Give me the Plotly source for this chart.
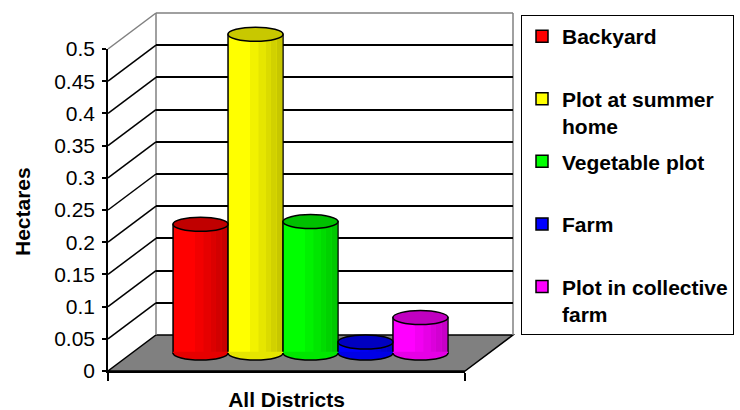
import plotly.graph_objects as go

# ---- data -------------------------------------------------------------
CATEGORY = "All Districts"
SERIES = ["Backyard", "Plot at summer home", "Vegetable plot", "Farm",
          "Plot in collective farm"]
LEGEND_LABELS = ["Backyard<br> ", "Plot at summer<br>home", "Vegetable plot<br> ",
                 "Farm<br> ", "Plot in collective<br>farm"]
HECTARES = [0.200, 0.495, 0.204, 0.017, 0.055]
BODY_COLORS = ["#FF0000", "#FFFF00", "#00FF00", "#0000FF", "#FF00FF"]
TOP_COLORS = ["#C00000", "#C8C800", "#00C000", "#0000C0", "#C000C0"]
Y_TICKS = [0, 0.05, 0.1, 0.15, 0.2, 0.25, 0.3, 0.35, 0.4, 0.45, 0.5]
Y_TICK_TEXT = ["0", "0.05", "0.1", "0.15", "0.2", "0.25", "0.3", "0.35",
               "0.4", "0.45", "0.5"]
Y_TITLE = "Hectares"

# ---- page geometry (pixels) ---------------------------------------------
W, H = 740, 410
FRONT_X0, FRONT_X1 = 108, 465        # front edge of the floor
FRONT_Y0, FRONT_Y1 = 371, 49         # pixel rows of 0 and 0.5 on the front plane
DEPTH_DX, DEPTH_DY = 48, 36          # shift from front plane to back wall
Y_MAX = Y_TICKS[-1]
PX_PER_UNIT = (FRONT_Y0 - FRONT_Y1) / Y_MAX
GROUP_WIDTH = 0.77                   # share of the category occupied by the cluster
CAP_HALF_PX = 7                      # half height of the cylinder ellipses
FONT = "Liberation Sans, Arial, sans-serif"


def px(x):
    return x / W


def py(y):
    return 1 - y / H


def front_row(v):
    return FRONT_Y0 - v * PX_PER_UNIT


def shade(hex_color, f):
    r, g, b = (int(hex_color[i:i + 2], 16) for i in (1, 3, 5))
    return "#%02X%02X%02X" % (round(r * f), round(g * f), round(b * f))


# mid-depth plane where the cylinders stand
MID_DX, MID_DY = DEPTH_DX / 2, DEPTH_DY / 2
mid_zero_row = FRONT_Y0 - MID_DY
y3_range = [-(H - mid_zero_row) / PX_PER_UNIT, mid_zero_row / PX_PER_UNIT]
cap_half = CAP_HALF_PX / PX_PER_UNIT
bar_w = GROUP_WIDTH / len(SERIES)
x_unit_px = FRONT_X1 - FRONT_X0
inset = 0.75 / x_unit_px

fig = go.Figure()
shapes = []

# empty traces so the front axes and the back wall grid get drawn
fig.add_trace(go.Scatter(x=[CATEGORY], y=[None], xaxis="x", yaxis="y",
                         mode="markers", showlegend=False, hoverinfo="skip"))
fig.add_trace(go.Scatter(x=[0], y=[None], xaxis="x2", yaxis="y2",
                         mode="markers", showlegend=False, hoverinfo="skip"))

# cylinders: body, vertical shading strips, base arc and top ellipse
STRIPS = [(0.40, 0.55, 0.95), (0.55, 0.68, 0.90), (0.68, 0.78, 0.86),
          (0.78, 0.88, 0.82), (0.88, 1.0, 0.78)]
K = 0.5523
for i, (label, v, col, top) in enumerate(zip(LEGEND_LABELS, HECTARES,
                                             BODY_COLORS, TOP_COLORS)):
    left = -GROUP_WIDTH / 2 + i * bar_w
    right = left + bar_w
    fig.add_trace(go.Bar(
        x=[CATEGORY], y=[v], xaxis="x3", yaxis="y3", name=label,
        legendgroup=SERIES[i], offset=left, width=bar_w,
        marker=dict(color=col, line=dict(color="black", width=1.5)),
        hoverinfo="skip"))
    for f0, f1, f in STRIPS:
        w0 = left + f0 * bar_w
        w1 = left + f1 * bar_w - (inset if f1 >= 1 else 0)
        fig.add_trace(go.Bar(
            x=[CATEGORY], y=[v], xaxis="x3", yaxis="y3", showlegend=False,
            legendgroup=SERIES[i], offset=w0, width=w1 - w0,
            marker=dict(color=shade(col, f), line=dict(width=0)),
            hoverinfo="skip"))
    cx, a = (left + right) / 2, bar_w / 2
    arc = (f"M {left} 0 C {left} {-K * cap_half} {cx - K * a} {-cap_half} {cx} {-cap_half} "
           f"C {cx + K * a} {-cap_half} {right} {-K * cap_half} {right} 0")
    eps = 1.2 / PX_PER_UNIT
    shapes.append(dict(type="path", xref="x3", yref="y3", layer="above",
                       path=arc + f" L {right} {eps} L {left} {eps} Z",
                       fillcolor=shade(col, 0.9), line=dict(width=0)))
    shapes.append(dict(type="path", xref="x3", yref="y3", layer="above",
                       path=arc, fillcolor="rgba(0,0,0,0)",
                       line=dict(color="black", width=1.5)))
    shapes.append(dict(type="circle", xref="x3", yref="y3", layer="above",
                       x0=left, x1=right, y0=v - cap_half, y1=v + cap_half,
                       fillcolor=top, line=dict(color="black", width=1.5)))

# ---- walls and floor ----------------------------------------------------
bx0, bx1 = FRONT_X0 + DEPTH_DX, FRONT_X1 + DEPTH_DX
by0, by1 = FRONT_Y0 - DEPTH_DY, FRONT_Y1 - DEPTH_DY
gray = "#808080"


def seg(x0, y0, x1, y1, color, width=1.5):
    return dict(type="line", xref="paper", yref="paper", layer="below",
                x0=px(x0), y0=py(y0), x1=px(x1), y1=py(y1),
                line=dict(color=color, width=width))


floor = (f"M {px(FRONT_X0)} {py(FRONT_Y0)} L {px(FRONT_X1)} {py(FRONT_Y0)} "
         f"L {px(bx1)} {py(by0)} L {px(bx0)} {py(by0)} Z")
shapes.insert(0, dict(type="path", xref="paper", yref="paper", layer="below",
                      path=floor, fillcolor=gray,
                      line=dict(color="black", width=1.5)))
shapes += [
    seg(FRONT_X0, FRONT_Y1, bx0, by1, gray),
    seg(bx0, by1, bx0, by0, gray),
    seg(bx0, by1, bx1, by1, gray),
    seg(bx1, by1, bx1, by0, gray),
]
for v in Y_TICKS[1:-1]:
    r = front_row(v)
    shapes.append(seg(FRONT_X0, r, bx0, r - DEPTH_DY, "black"))

axis_font = dict(family=FONT, size=21, color="black")
bold_font = dict(family=FONT, size=21, color="black", weight="bold")

fig.update_layout(
    width=W, height=H,
    margin=dict(l=0, r=0, t=0, b=0, autoexpand=False),
    paper_bgcolor="white", plot_bgcolor="rgba(0,0,0,0)",
    barmode="overlay",
    shapes=shapes,
    showlegend=True,
    legend=dict(x=px(521), y=py(15), xanchor="left", yanchor="top",
                bgcolor="white", bordercolor="black", borderwidth=1,
                font=bold_font, valign="top", tracegroupgap=5,
                traceorder="grouped"),
    # front plane axes
    xaxis=dict(domain=[px(FRONT_X0), px(FRONT_X1)], anchor="y",
               type="category", range=[-0.5, 0.5],
               showline=True, linecolor="black", linewidth=1.5,
               ticks="outside", tickson="boundaries", ticklen=8,
               tickwidth=1.5, tickcolor="black", tickfont=bold_font,
               ticklabelstandoff=9,
               showgrid=False, zeroline=False, fixedrange=True),
    yaxis=dict(domain=[py(FRONT_Y0), py(FRONT_Y1)], anchor="x",
               range=[0, Y_MAX], tickmode="array", tickvals=Y_TICKS,
               ticktext=Y_TICK_TEXT, showline=True, linecolor="black",
               linewidth=1.5, ticks="outside", ticklen=4, tickwidth=1.5,
               tickcolor="black", tickfont=axis_font, ticklabelstandoff=3,
               showgrid=False, zeroline=False, fixedrange=True),
    # back wall with its gridlines
    xaxis2=dict(domain=[px(bx0), px(bx1)], anchor="y2", range=[-0.5, 0.5],
                showline=False, showticklabels=False, ticks="",
                showgrid=False, zeroline=False, fixedrange=True),
    yaxis2=dict(domain=[py(by0), py(by1)], anchor="x2", range=[0, Y_MAX],
                tickmode="array", tickvals=Y_TICKS[:-1], showticklabels=False,
                ticks="", showline=False, showgrid=True, gridcolor="black",
                gridwidth=1.5, zeroline=False, fixedrange=True),
    # mid-depth plane carrying the cylinders
    xaxis3=dict(domain=[px(FRONT_X0 + MID_DX), px(FRONT_X1 + MID_DX)],
                anchor="y3", type="category", range=[-0.5, 0.5],
                visible=False, fixedrange=True),
    yaxis3=dict(domain=[0, 1], anchor="x3", range=y3_range, visible=False,
                fixedrange=True),
    annotations=[dict(text=f"<b>{Y_TITLE}</b>", xref="paper", yref="paper",
                      x=px(22), y=py(212), xanchor="center", yanchor="middle",
                      textangle=-90, showarrow=False, font=bold_font)],
)

fig.write_html("out.html")
